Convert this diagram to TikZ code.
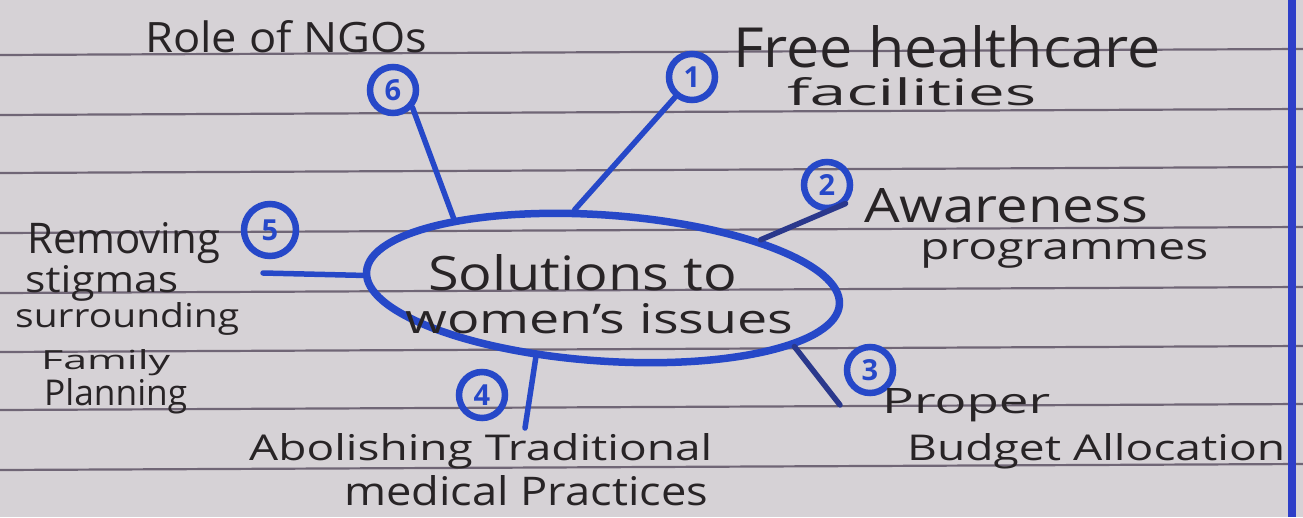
\documentclass[tikz,border=0pt]{standalone}
\usepackage{fontspec}
\setmainfont{Open Sans}
\usetikzlibrary{shapes.geometric}
\definecolor{paper}{RGB}{214,210,214}
\definecolor{ruleink}{RGB}{112,102,118}
\definecolor{pen}{RGB}{38,72,200}
\definecolor{pendark}{RGB}{42,56,140}
\definecolor{ink}{RGB}{40,36,38}
\definecolor{marginblue}{RGB}{45,62,200}
\newcommand\fitw[3]{\resizebox{#1}{#2}{#3}}
\begin{document}
\begin{tikzpicture}[x=1pt,y=-1pt,
  hand/.style={text=ink, inner sep=0pt, anchor=base west},
  numc/.style={circle, draw=pen, line width=6.5pt, minimum size=46pt, inner sep=0pt, text=pen, font=\bfseries\fontsize{29}{29}\selectfont},
  spoke/.style={draw=pen, line width=5.5pt, line cap=round},
  ruleline/.style={draw=ruleink, line width=2.2pt}]
\fill[paper] (0,0) rectangle (1303,517);
\useasboundingbox (0,0) rectangle (1303,517);
\foreach \y in {55,115,173,233,293,352,410,470} \draw[ruleline] (0,\y) -- (1303,\y-6);
\draw[marginblue, line width=8pt] (1292,0) -- (1292,517);

% central hub
\node[draw=pen, line width=7.5pt, ellipse, rotate=-4, minimum width=474pt, minimum height=146pt, inner sep=0pt] (hub) at (603,288) {};
\node[hand] (hubA) at (428,290) {\fitw{309pt}{36pt}{Solutions to}};
\node[hand] (hubB) at (405,333) {\fitw{388pt}{30pt}{women's issues}};

% numbered circles
\node[numc] (n1) at (692,77) {1};
\node[numc] (n2) at (827,185) {2};
\node[numc] (n3) at (870,370) {3};
\node[numc] (n4) at (482,395) {4};
\node[numc, minimum size=52pt] (n5) at (270,230) {5};
\node[numc] (n6) at (393,90) {6};

% spokes
\coordinate (s3) at (840,405);
\coordinate (s4) at (525,428);
\coordinate (s5) at (263,273);
\draw[spoke] (n6.-42) -- (hub.159);
\draw[spoke] (n1.230) -- (hub.114);
\draw[spoke, draw=pendark] (n2.-45) -- (hub.21);
\draw[spoke, draw=pendark] (hub.-13.5) -- (s3);
\draw[spoke] (hub.230) -- (s4);
\draw[spoke] (s5) -- (hub.181.6);

% labels
\node[hand] (t6) at (145,52) {\fitw{282pt}{32pt}{Role of NGOs}};
\node[hand] (t1a) at (733,67) {\fitw{427pt}{42pt}{Free healthcare}};
\node[hand] (t1b) at (787,105) {\fitw{249pt}{28pt}{facilities}};
\node[hand] (t2a) at (864,222) {\fitw{284pt}{34pt}{Awareness}};
\node[hand] (t2b) at (920,259) {\fitw{288pt}{20pt}{programmes}};
\node[hand] (t3a) at (882,413) {\fitw{168pt}{25pt}{Proper}};
\node[hand] (t3b) at (907,460) {\fitw{378pt}{27pt}{Budget Allocation}};
\node[hand] (t4a) at (249,460) {\fitw{463pt}{27pt}{Abolishing Traditional}};
\node[hand] (t4b) at (344,505) {\fitw{364pt}{30pt}{medical Practices}};
\node[hand] (t5a) at (27,253) {\fitw{193pt}{31pt}{Removing}};
\node[hand] (t5b) at (25,292) {\fitw{153pt}{27pt}{stigmas}};
\node[hand] (t5c) at (15,327) {\fitw{224pt}{25pt}{surrounding}};
\node[hand] (t5d) at (41,369) {\fitw{129pt}{20pt}{Family}};
\node[hand] (t5e) at (44,405) {\fitw{143pt}{27pt}{Planning}};
\end{tikzpicture}
\end{document}
